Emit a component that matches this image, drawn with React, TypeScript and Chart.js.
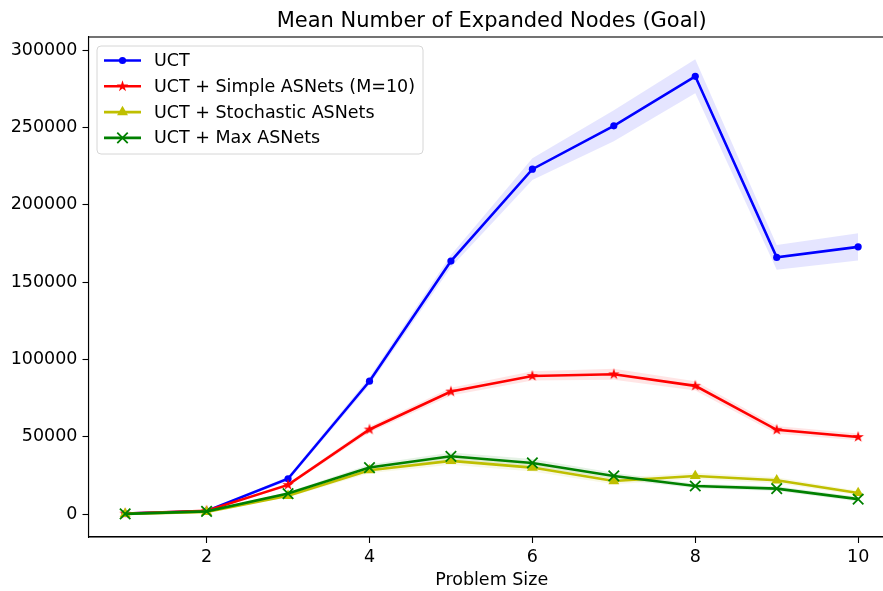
import React, { useEffect, useRef } from "react";
import { Chart, registerables } from "chart.js";

Chart.register(...registerables);

// Problem sizes on the x axis
const problemSizes = [1, 2, 3, 4, 5, 6, 7, 8, 9, 10];

// Mean expanded nodes per planner
const uctMean = [500, 2100, 23000, 86000, 163600, 223000, 251000, 283000, 166000, 172800];
const simpleMean = [500, 2300, 19000, 54800, 79300, 89400, 90500, 83000, 54600, 50000];
const stochasticMean = [300, 1600, 12000, 28500, 34500, 30200, 21500, 24800, 22000, 13800];
const maxMean = [300, 1900, 13400, 30200, 37500, 33200, 24800, 18300, 16600, 9800];

// Half-width of the shaded spread around each mean
const uctSpread = [300, 500, 1500, 2500, 4000, 7000, 10000, 11000, 8000, 8800];
const simpleSpread = [300, 400, 1000, 2000, 2500, 3000, 3500, 3000, 2500, 2200];
const stochasticSpread = [200, 300, 1000, 2000, 2500, 2500, 2000, 2000, 2000, 1500];
const maxSpread = [200, 300, 1000, 2000, 2500, 2500, 2000, 1500, 1500, 1500];

// Axis ticks
const xTicks = [2, 4, 6, 8, 10];
const yTicks = [0, 50000, 100000, 150000, 200000, 250000, 300000];

const seriesNames = [
  "UCT",
  "UCT + Simple ASNets (M=10)",
  "UCT + Stochastic ASNets",
  "UCT + Max ASNets",
];

const FONT = "'DejaVu Sans', sans-serif";
const TEXT_SIZE = 17.5;

function starPath(ctx: CanvasRenderingContext2D, cx: number, cy: number, outer: number) {
  const inner = outer * 0.382;
  ctx.beginPath();
  for (let i = 0; i < 10; i++) {
    const r = i % 2 === 0 ? outer : inner;
    const a = -Math.PI / 2 + (i * Math.PI) / 5;
    const px = cx + r * Math.cos(a);
    const py = cy + r * Math.sin(a);
    if (i === 0) ctx.moveTo(px, py);
    else ctx.lineTo(px, py);
  }
  ctx.closePath();
}

function makeStar(color: string, outer: number): HTMLCanvasElement {
  const size = Math.ceil(outer * 2 + 2);
  const c = document.createElement("canvas");
  c.width = size;
  c.height = size;
  const ctx = c.getContext("2d")!;
  starPath(ctx, size / 2, size / 2, outer);
  ctx.fillStyle = color;
  ctx.fill();
  return c;
}

// Legend glyphs, shaped like the point styles used on the chart
function drawMarker(ctx: CanvasRenderingContext2D, kind: string, x: number, y: number, r: number, color: string, bw: number) {
  ctx.fillStyle = color;
  ctx.strokeStyle = color;
  if (kind === "circle") {
    ctx.beginPath();
    ctx.arc(x, y, r, 0, Math.PI * 2);
    ctx.fill();
  } else if (kind === "star") {
    starPath(ctx, x, y, r);
    ctx.fill();
  } else if (kind === "triangle") {
    ctx.beginPath();
    for (let i = 0; i < 3; i++) {
      const a = (i * 2 * Math.PI) / 3;
      const px = x + Math.sin(a) * r;
      const py = y - Math.cos(a) * r;
      if (i === 0) ctx.moveTo(px, py);
      else ctx.lineTo(px, py);
    }
    ctx.closePath();
    ctx.fill();
  } else if (kind === "crossRot") {
    const d = r * Math.SQRT1_2;
    ctx.lineWidth = bw;
    ctx.beginPath();
    ctx.moveTo(x - d, y - d);
    ctx.lineTo(x + d, y + d);
    ctx.moveTo(x - d, y + d);
    ctx.lineTo(x + d, y - d);
    ctx.stroke();
  }
}

const pts = (ys: number[]) => problemSizes.map((x, i) => ({ x, y: ys[i] }));

export default function App() {
  const canvasRef = useRef<HTMLCanvasElement>(null);

  useEffect(() => {
    const canvas = canvasRef.current;
    if (!canvas) return;

    const star = makeStar("#ff0000", 6);

    const lineDefs = [
      { name: seriesNames[0], mean: uctMean, spread: uctSpread, color: "#0000ff", band: "rgba(0,0,255,0.1)", kind: "circle", style: "circle" as any, radius: 3.6, bw: 0 },
      { name: seriesNames[1], mean: simpleMean, spread: simpleSpread, color: "#ff0000", band: "rgba(255,0,0,0.1)", kind: "star", style: star as any, radius: 6, bw: 0 },
      { name: seriesNames[2], mean: stochasticMean, spread: stochasticSpread, color: "#bfbf00", band: "rgba(191,191,0,0.1)", kind: "triangle", style: "triangle" as any, radius: 6.3, bw: 0 },
      { name: seriesNames[3], mean: maxMean, spread: maxSpread, color: "#008000", band: "rgba(0,128,0,0.1)", kind: "crossRot", style: "crossRot" as any, radius: 7.4, bw: 1.8 },
    ];

    const datasets: any[] = [];
    lineDefs.forEach((d, k) => {
      datasets.push({
        label: d.name + " upper",
        data: pts(d.mean.map((m, i) => m + d.spread[i])),
        borderWidth: 0,
        pointRadius: 0,
        backgroundColor: d.band,
        fill: "+1",
        order: 20 + k,
      });
      datasets.push({
        label: d.name + " lower",
        data: pts(d.mean.map((m, i) => m - d.spread[i])),
        borderWidth: 0,
        pointRadius: 0,
        fill: false,
        order: 20 + k,
      });
    });
    lineDefs.forEach((d, k) => {
      datasets.push({
        label: d.name,
        data: pts(d.mean),
        borderColor: d.color,
        backgroundColor: d.color,
        borderWidth: 2.6,
        pointStyle: d.style,
        pointRadius: d.radius,
        pointBorderWidth: d.bw,
        pointBorderColor: d.color,
        pointBackgroundColor: d.color,
        fill: false,
        tension: 0,
        order: 10 - k,
      });
    });

    const framePlugin = {
      id: "frameAndLegend",
      afterDraw(chart: any) {
        const { ctx, chartArea } = chart;
        const { left, right, top, bottom } = chartArea;
        ctx.save();
        // axes frame
        ctx.strokeStyle = "#000";
        ctx.lineWidth = 1.1;
        ctx.strokeRect(left, top, right - left, bottom - top);

        // title
        ctx.fillStyle = "#000";
        ctx.font = `21px ${FONT}`;
        ctx.textAlign = "center";
        ctx.textBaseline = "alphabetic";
        ctx.fillText("Mean Number of Expanded Nodes (Goal)", (left + right) / 2, 27);

        // legend
        const bx = 97, by = 46, bw = 326, bh = 108, r = 4;
        ctx.beginPath();
        ctx.moveTo(bx + r, by);
        ctx.lineTo(bx + bw - r, by);
        ctx.quadraticCurveTo(bx + bw, by, bx + bw, by + r);
        ctx.lineTo(bx + bw, by + bh - r);
        ctx.quadraticCurveTo(bx + bw, by + bh, bx + bw - r, by + bh);
        ctx.lineTo(bx + r, by + bh);
        ctx.quadraticCurveTo(bx, by + bh, bx, by + bh - r);
        ctx.lineTo(bx, by + r);
        ctx.quadraticCurveTo(bx, by, bx + r, by);
        ctx.closePath();
        ctx.fillStyle = "rgba(255,255,255,0.8)";
        ctx.fill();
        ctx.strokeStyle = "#d6d6d6";
        ctx.lineWidth = 1;
        ctx.stroke();

        ctx.font = `${TEXT_SIZE}px ${FONT}`;
        ctx.textAlign = "left";
        ctx.textBaseline = "middle";
        lineDefs.forEach((d, i) => {
          const y = 60.5 + i * 25.8;
          ctx.strokeStyle = d.color;
          ctx.lineWidth = 2.6;
          ctx.beginPath();
          ctx.moveTo(104, y);
          ctx.lineTo(141, y);
          ctx.stroke();
          drawMarker(ctx, d.kind, 122.5, y, d.radius, d.color, d.bw);
          ctx.fillStyle = "#000";
          ctx.fillText(d.name, 154, y + 1);
        });
        ctx.restore();
      },
    };

    const chart = new Chart(canvas, {
      type: "line",
      data: { datasets },
      options: {
        animation: false,
        responsive: false,
        maintainAspectRatio: false,
        layout: { padding: { top: 37, right: 0, left: 0, bottom: 0 } },
        plugins: {
          legend: { display: false },
          title: { display: false },
          tooltip: { enabled: false },
          filler: { propagate: false },
        },
        scales: {
          x: {
            type: "linear",
            min: 0.55,
            max: 10.45,
            afterBuildTicks: (s: any) => {
              s.ticks = xTicks.map((v) => ({ value: v }));
            },
            afterFit: (s: any) => {
              s.height = 54;
            },
            border: { display: true, color: "#000", width: 1.1 },
            grid: { display: true, drawOnChartArea: false, drawTicks: true, tickLength: 6, color: "#000", tickWidth: 1.1 },
            ticks: { color: "#000", font: { family: FONT, size: TEXT_SIZE }, padding: 4, maxRotation: 0 },
            title: { display: true, text: "Problem Size", color: "#000", font: { family: FONT, size: TEXT_SIZE }, padding: { top: 0, bottom: 0 } },
          },
          y: {
            type: "linear",
            min: -14650,
            max: 308400,
            afterBuildTicks: (s: any) => {
              s.ticks = yTicks.map((v) => ({ value: v }));
            },
            afterFit: (s: any) => {
              s.width = 88.5;
            },
            border: { display: true, color: "#000", width: 1.1 },
            grid: { display: true, drawOnChartArea: false, drawTicks: true, tickLength: 6, color: "#000", tickWidth: 1.1 },
            ticks: { color: "#000", font: { family: FONT, size: TEXT_SIZE }, padding: 5, callback: (v: any) => String(v) },
          },
        },
      },
      plugins: [framePlugin],
    });

    return () => chart.destroy();
  }, []);

  return (
    <div style={{ position: "fixed", left: 0, top: 0, width: 883, height: 591, overflow: "hidden", background: "#fff" }}>
      <canvas ref={canvasRef} width={904} height={591} style={{ display: "block", width: 904, height: 591 }} />
    </div>
  );
}
